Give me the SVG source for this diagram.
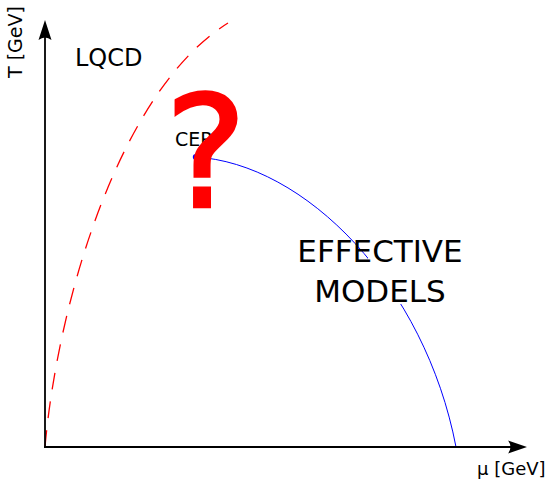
<svg xmlns="http://www.w3.org/2000/svg" width="560" height="482" viewBox="0 0 560 482">
<style>
text{font-family:"DejaVu Sans","Noto Sans",sans-serif;fill:#000}
.axis{stroke:#000;stroke-width:1.8;fill:none}
.head{fill:#000}
</style>
<rect width="560" height="482" fill="#fff"/>
<g id="connectors">
<path id="lqcd-boundary" d="M45,447 C58,300 120,90 228,23" fill="none" stroke="#f00" stroke-width="1.3" stroke-dasharray="17,12"/>
<path id="crossover-line" d="M195,157 C305,163 425,285 456,447" fill="none" stroke="#00f" stroke-width="1"/>
</g>
<g id="axes">
<line class="axis" x1="45" y1="447" x2="45" y2="30"/>
<path class="head" d="M45,20 L38.5,40 Q45,35 51.5,40 Z"/>
<line class="axis" x1="44" y1="447" x2="517" y2="447"/>
<path class="head" d="M527,447 L508,440.5 Q513,447 508,453.5 Z"/>
<text x="477" y="475" font-size="18">μ [GeV]</text>
<text transform="translate(22,78) rotate(-90)" font-size="19">T [GeV]</text>
</g>
<g id="lqcd"><text x="75" y="66" font-size="24">LQCD</text></g>
<g id="cep">
<text x="175" y="146" font-size="19">CEP</text>
<ellipse cx="196" cy="157" rx="3.2" ry="3" fill="#00f"/>
</g>
<g id="effective-models">
<rect x="368" y="238" width="42" height="66" fill="#fff"/>
<text x="380" y="262" font-size="31" text-anchor="middle">EFFECTIVE</text>
<text x="380" y="302" font-size="31" text-anchor="middle">MODELS</text>
</g>
<g id="question"><text x="206" y="207" font-size="155" style="fill:#f00;stroke:#f00;stroke-width:2.6;stroke-linejoin:miter" text-anchor="middle">?</text></g>
</svg>
